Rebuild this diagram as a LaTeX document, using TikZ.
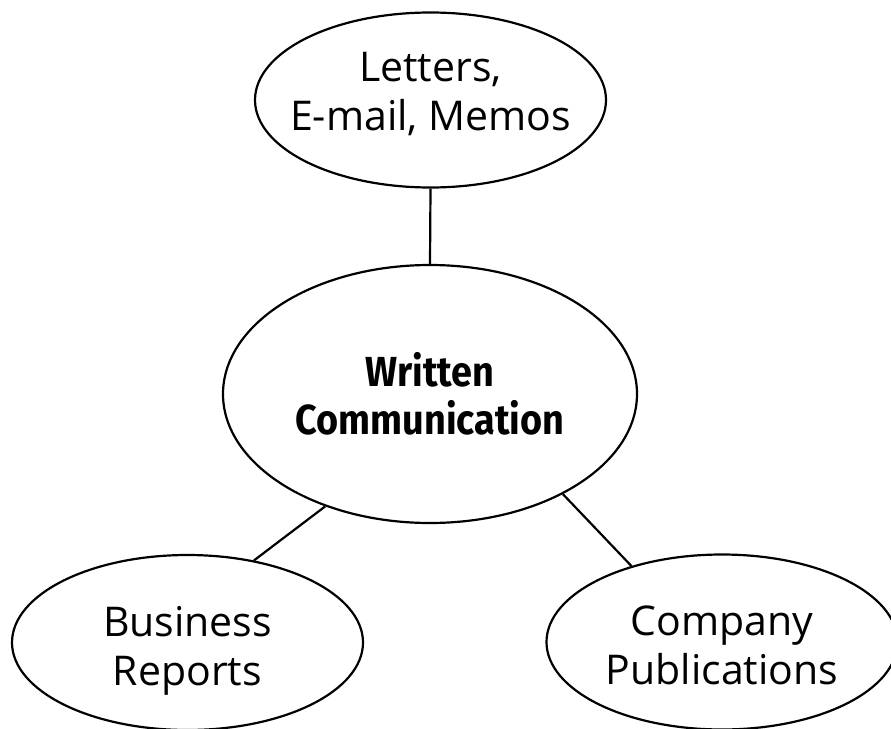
\documentclass[tikz,border=0pt]{standalone}
\usepackage{fontspec}
\setmainfont{Open Sans}
\newfontfamily\condbold[FakeStretch=0.9]{Fira Sans}
\usetikzlibrary{shapes.geometric}
\tikzset{
  bubble/.style={ellipse, draw=black, line width=2.2pt, inner sep=0pt,
    minimum width=351pt, minimum height=175pt},
  hub/.style={bubble, minimum width=414pt, minimum height=258pt},
  txt/.style={align=center, inner sep=0pt, font=\fontsize{41}{49}\selectfont},
  hubtxt/.style={align=center, inner sep=0pt,
    font=\condbold\bfseries\fontsize{42}{48}\selectfont},
  link/.style={line width=2.2pt}
}
\begin{document}
\begin{tikzpicture}[x=1pt,y=-1pt]
\useasboundingbox (0,0) rectangle (891,728);
\node[bubble] (top) at (430.5,100) {};
\node[hub] (mid) at (430,394) {};
\node[bubble] (bl) at (187.5,642.5) {};
\node[bubble] (br) at (722,642) {};
\node[txt, yshift=6pt] (toptxt) at (top.center) {Letters,\\E-mail, Memos};
\node[hubtxt] (midtxt) at (mid.center) {Written\\Communication};
\node[txt, yshift=-8pt] (bltxt) at (bl.center) {Business\\Reports};
\node[txt, yshift=-3pt] (brtxt) at (br.center) {Company\\Publications};
\draw[link] (top.south) -- (mid.north);
\draw[link] (mid.227) -- (bl.51.6);
\draw[link] (mid.323) -- (br.140);
\end{tikzpicture}
\end{document}
